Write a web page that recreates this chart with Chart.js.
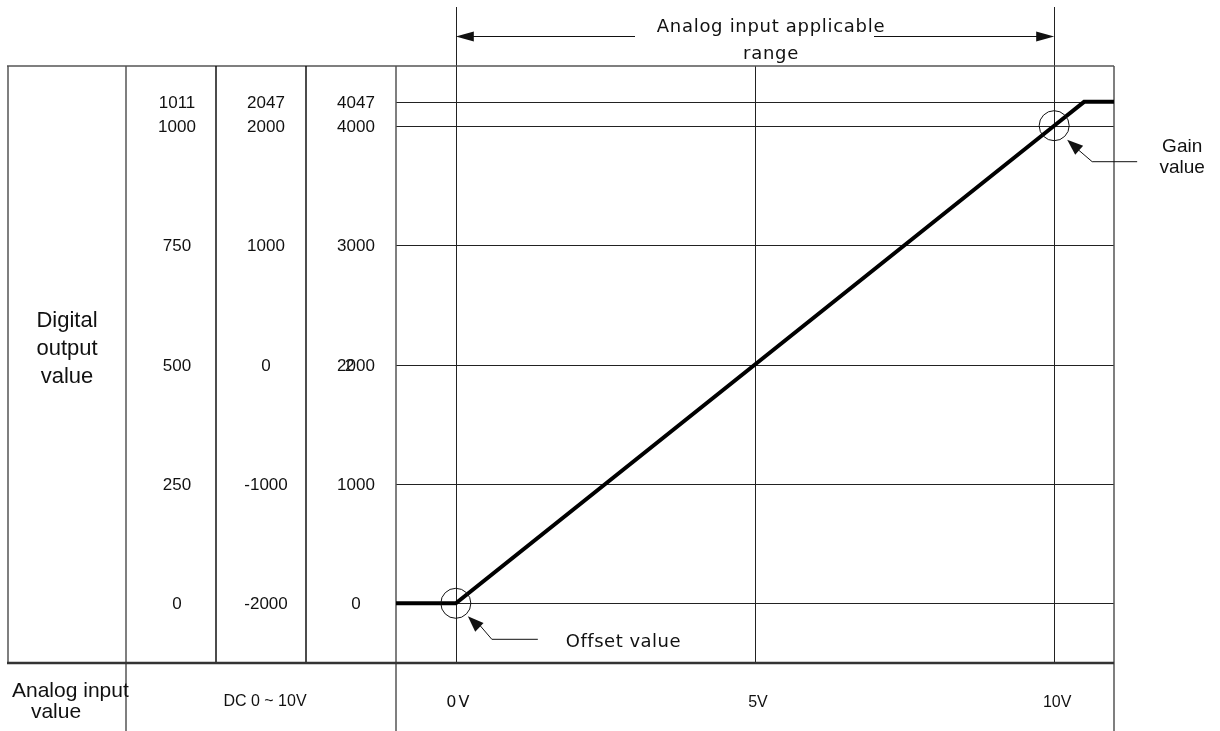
<!DOCTYPE html>
<html>
<head>
<meta charset="utf-8">
<title>Analog input characteristic</title>
<script src="https://cdn.jsdelivr.net/npm/chart.js@4.4.0/dist/chart.umd.min.js"></script>
<style>
  html, body { margin: 0; padding: 0; background: #fff; }
  canvas { display: block; }
</style>
</head>
<body>
<canvas id="chartAnalog" width="1220" height="731"></canvas>
<script>
// input voltage marks on the x axis
const voltTicks = [0, 5, 10];
const voltLabels = ["0V", "5V", "10V"];

// digital output rows (values of the 0..4000 range)
const outputTicks = [0, 1000, 2000, 3000, 4000, 4047];
const rangeLabels1 = ["0", "250", "500", "750", "1000", "1011"];
const rangeLabels2 = ["-2000", "-1000", "0", "1000", "2000", "2047"];
const rangeLabels3 = ["0", "1000", "2000", "3000", "4000", "4047"];

// conversion curve
const curveVolts = [-1, 0, 10, 10.5, 11];
const curveOutput = [0, 0, 4000, 4047, 4047];

// calibration points
const offsetPoint = { x: 0, y: 0 };
const gainPoint = { x: 10, y: 4000 };

const ARIAL = "'Liberation Sans', Arial, sans-serif";
const WIDE = "'DejaVu Sans', sans-serif";

// linear scale that spreads the values above stretchFrom so the 4047 row is readable
class StretchedScale extends Chart.LinearScale {
  warp(v) {
    const from = this.options.stretchFrom;
    return v <= from ? v : from + (v - from) * this.options.stretchFactor;
  }
  getPixelForValue(value) {
    if (value === null) return NaN;
    return this.getPixelForDecimal((this.warp(value) - this.min) / (this.max - this.min));
  }
}
StretchedScale.id = "stretched";
StretchedScale.defaults = Chart.LinearScale.defaults;
Chart.register(StretchedScale);

function hline(ctx, x1, x2, y) {
  ctx.beginPath(); ctx.moveTo(x1, y); ctx.lineTo(x2, y); ctx.stroke();
}
function vline(ctx, x, y1, y2) {
  ctx.beginPath(); ctx.moveTo(x, y1); ctx.lineTo(x, y2); ctx.stroke();
}
function arrowHead(ctx, tx, ty, fx, fy, len, half) {
  const a = Math.atan2(ty - fy, tx - fx);
  const bx = tx - len * Math.cos(a), by = ty - len * Math.sin(a);
  ctx.beginPath();
  ctx.moveTo(tx, ty);
  ctx.lineTo(bx + half * Math.sin(a), by - half * Math.cos(a));
  ctx.lineTo(bx - half * Math.sin(a), by + half * Math.cos(a));
  ctx.closePath();
  ctx.fill();
}
function text(ctx, str, x, y, font, align, spacing) {
  ctx.font = font;
  ctx.textAlign = align || "center";
  ctx.letterSpacing = spacing || "0px";
  ctx.fillText(str, x, y);
}

const tablePlugin = {
  id: "ioTable",
  beforeDatasetsDraw(chart) {
    const { ctx, chartArea: a, scales: { x, y } } = chart;
    const cols = [8, 126, 216, 306, a.left];
    ctx.save();

    // grid inside the plot
    ctx.strokeStyle = "#222";
    ctx.lineWidth = 1;
    outputTicks.forEach(function (v) {
      hline(ctx, a.left, a.right, Math.round(y.getPixelForValue(v)) + 0.5);
    });
    voltTicks.forEach(function (v, i) {
      const px = Math.round(x.getPixelForValue(v)) + 0.5;
      vline(ctx, px, i === 1 ? a.top : 7, a.bottom);
    });

    // table frame
    ctx.strokeStyle = "#555";
    ctx.lineWidth = 1.5;
    hline(ctx, 7, a.right, a.top);
    vline(ctx, cols[0], a.top, a.bottom);
    vline(ctx, cols[1], a.top, 731);
    vline(ctx, cols[4], a.top, 731);
    vline(ctx, a.right, a.top, 731);
    ctx.strokeStyle = "#111";
    vline(ctx, cols[2], a.top, a.bottom);
    vline(ctx, cols[3], a.top, a.bottom);
    ctx.strokeStyle = "#333";
    ctx.lineWidth = 2.5;
    hline(ctx, 7, a.right, a.bottom);
    ctx.restore();
  },
  afterDatasetsDraw(chart) {
    const { ctx, chartArea: a, scales: { x, y } } = chart;
    ctx.save();
    ctx.fillStyle = "#111";
    ctx.strokeStyle = "#111";
    ctx.textBaseline = "alphabetic";

    // output value columns
    const numFont = "17px " + ARIAL;
    outputTicks.forEach(function (v, i) {
      const py = y.getPixelForValue(v) + 6;
      text(ctx, rangeLabels1[i], 177, py, numFont);
      text(ctx, rangeLabels2[i], 266, py, numFont);
      text(ctx, rangeLabels3[i], 356, py, numFont);
    });
    // stray overprinted digit on the 2000 row
    text(ctx, "2", 345, y.getPixelForValue(2000) + 6, numFont, "left");

    text(ctx, "Digital", 67, 327, "22px " + ARIAL);
    text(ctx, "output", 67, 355, "22px " + ARIAL);
    text(ctx, "value", 67, 383, "22px " + ARIAL);

    // bottom row
    text(ctx, "Analog input", 12, 697, "21px " + ARIAL, "left");
    text(ctx, "value", 56, 718, "21px " + ARIAL);
    text(ctx, "DC 0 ~ 10V", 265, 706, "16px " + ARIAL);
    voltTicks.forEach(function (v, i) {
      const font = i === 0 ? "16px " + WIDE : "16px " + ARIAL;
      text(ctx, voltLabels[i], x.getPixelForValue(v) + 3, 707, font, "center", i === 0 ? "2px" : "0px");
    });

    // applicable range arrow
    const x0 = x.getPixelForValue(0), x10 = x.getPixelForValue(10);
    const mid = (x0 + x10) / 2 + 16;
    ctx.lineWidth = 1;
    hline(ctx, x0 + 10, mid - 136, 36.5);
    hline(ctx, mid + 103, x10 - 10, 36.5);
    arrowHead(ctx, x0, 36.5, x0 + 10, 36.5, 18, 5);
    arrowHead(ctx, x10, 36.5, x10 - 10, 36.5, 18, 5);
    text(ctx, "Analog input applicable", mid, 32, "18px " + WIDE, "center", "0.7px");
    text(ctx, "range", mid, 59, "18px " + WIDE, "center", "0.7px");

    // offset callout
    const ox = x.getPixelForValue(offsetPoint.x), oy = y.getPixelForValue(offsetPoint.y);
    ctx.lineWidth = 1;
    ctx.beginPath();
    ctx.moveTo(ox + 24, oy + 22);
    ctx.lineTo(ox + 36, oy + 36);
    ctx.lineTo(ox + 82, oy + 36);
    ctx.stroke();
    arrowHead(ctx, ox + 12, oy + 13, ox + 36, oy + 36, 16, 6);
    text(ctx, "Offset value", ox + 110, oy + 44, "18px " + WIDE, "left", "0.5px");

    // gain callout
    const gx = x.getPixelForValue(gainPoint.x), gy = y.getPixelForValue(gainPoint.y);
    ctx.beginPath();
    ctx.moveTo(gx + 24, gy + 24);
    ctx.lineTo(gx + 38, gy + 36);
    ctx.lineTo(gx + 83, gy + 36);
    ctx.stroke();
    arrowHead(ctx, gx + 13, gy + 14, gx + 38, gy + 36, 16, 6);
    text(ctx, "Gain", gx + 128, gy + 26, "19px " + ARIAL);
    text(ctx, "value", gx + 128, gy + 47, "19px " + ARIAL);
    ctx.restore();
  }
};

const ctxAnalog = document.getElementById("chartAnalog").getContext("2d");

const chartAnalog = new Chart(ctxAnalog, {
  type: "line",
  data: {
    datasets: [
      {
        label: "Digital output",
        data: curveVolts.map(function (v, i) { return { x: v, y: curveOutput[i] }; }),
        borderColor: "#000",
        borderWidth: 4,
        borderJoinStyle: "miter",
        pointRadius: 0,
        tension: 0,
        fill: false,
        order: 2
      },
      {
        type: "scatter",
        label: "Calibration",
        data: [offsetPoint, gainPoint],
        pointStyle: "circle",
        pointRadius: 15,
        borderColor: "#111",
        borderWidth: 1,
        backgroundColor: "rgba(0,0,0,0)",
        order: 1
      }
    ]
  },
  options: {
    responsive: false,
    animation: false,
    events: [],
    layout: {
      padding: { left: 396, right: 106, top: 66, bottom: 68 }
    },
    scales: {
      x: { type: "linear", display: false, min: -1, max: 11 },
      y: {
        type: "stretched",
        display: false,
        min: -500,
        max: 4500,
        stretchFrom: 4000,
        stretchFactor: 200 / 47
      }
    },
    plugins: {
      legend: { display: false },
      tooltip: { enabled: false }
    }
  },
  plugins: [tablePlugin]
});
</script>
</body>
</html>
